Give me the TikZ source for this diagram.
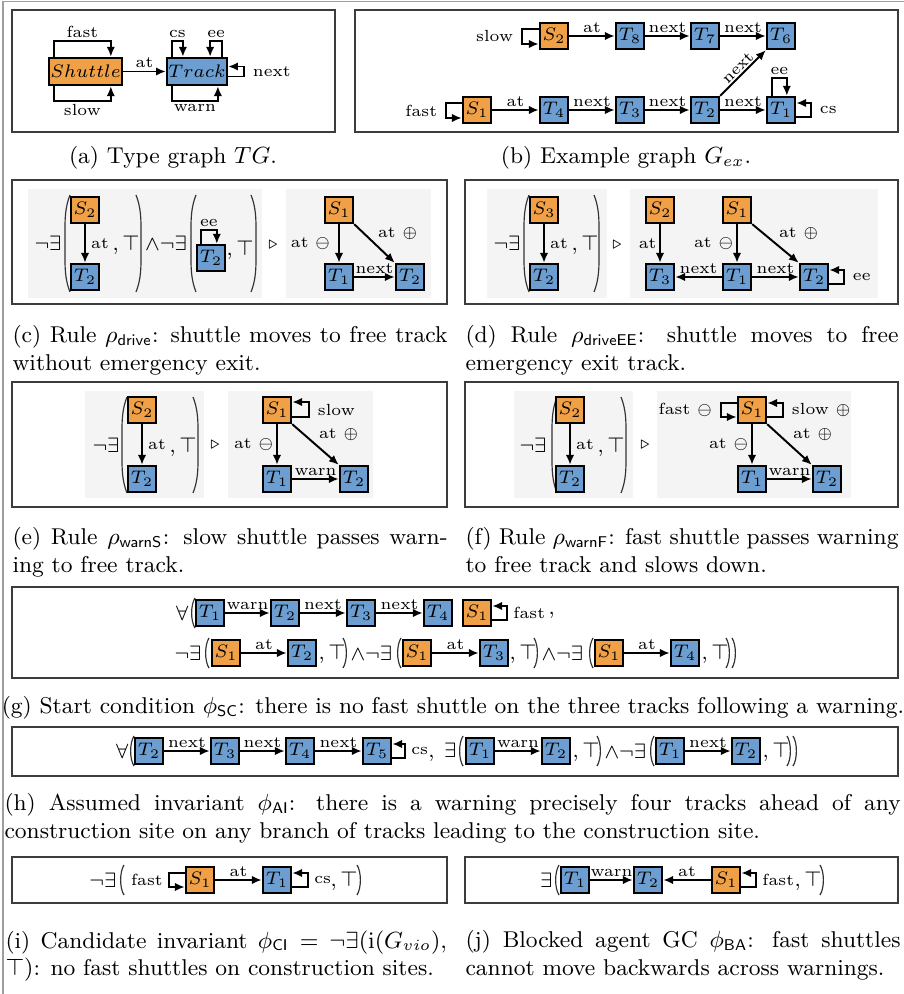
\documentclass[tikz,border=0pt]{standalone}
\usepackage{amsmath,amssymb}
\usepackage{tikz}
\usetikzlibrary{arrows.meta,calc,positioning}
\definecolor{ShuttleOrange}{RGB}{240,160,70}
\definecolor{TrackBlue}{RGB}{108,158,210}
\definecolor{PanelGray}{RGB}{244,244,244}
\definecolor{FrameGray}{RGB}{60,60,60}
% thin brackets: tall ones for the rules, short ones for the conditions
\newcommand{\parenopen}[3]{\draw[parenline] (#1+4,#2) .. controls (#1,#2+10) and (#1-1,#2+20) .. (#1-1,#2+32) -- (#1-1,#3-32) .. controls (#1-1,#3-20) and (#1,#3-10) .. (#1+4,#3);}
\newcommand{\parenclose}[3]{\draw[parenline] (#1-4,#2) .. controls (#1,#2+10) and (#1+1,#2+20) .. (#1+1,#2+32) -- (#1+1,#3-32) .. controls (#1+1,#3-20) and (#1,#3-10) .. (#1-4,#3);}
\newcommand{\smallopen}[2]{\draw[parenline] (#1+3,#2-15) .. controls (#1-1.5,#2-8) and (#1-1.5,#2+8) .. (#1+3,#2+15);}
\newcommand{\smallclose}[2]{\draw[parenline] (#1-3,#2-15) .. controls (#1+1.5,#2-8) and (#1+1.5,#2+8) .. (#1-3,#2+15);}
\tikzset{
  shuttle/.style={draw,line width=0.9pt,fill=ShuttleOrange,minimum width=10.8pt,minimum height=10pt,inner sep=0.5pt,font=\fontsize{7.5}{8}\selectfont},
  track/.style={shuttle,fill=TrackBlue},
  link/.style={-{Latex[length=3.8pt,width=3.2pt]},line width=0.75pt},
  lbl/.style={font=\fontsize{6.2}{7}\selectfont,inner sep=1pt},
  fml/.style={font=\fontsize{8.5}{10}\selectfont,inner sep=0pt},
  parenline/.style={line width=0.45pt,black!80},
  boxframe/.style={draw=FrameGray,line width=0.5pt},
  panel/.style={fill=PanelGray},
  capt/.style={font=\fontsize{8.8}{10.6}\selectfont,inner sep=0pt},
  captpar/.style={capt,anchor=north west,align=left},
}
\begin{document}
\begin{tikzpicture}[x=0.385pt,y=-0.385pt,>=Latex]
\useasboundingbox (0,0) rectangle (904,994);
% outer frame
\draw[FrameGray!50,line width=0.6pt] (3,994) -- (3,1.5) -- (904,1.5);

% (a) type graph
\draw[boxframe] (12,10) rectangle (335,132);
\node[shuttle,minimum width=26.6pt,minimum height=10.4pt] (sh) at (85.5,71.5) {$Shuttle$};
\node[track,minimum width=22.3pt,minimum height=10.4pt] (tr) at (197,71.5) {$Track$};
\draw[link] (sh) -- (tr) node[lbl,midway,above]{at};
\draw[link] ($(sh.north west)+(6,0)$) -- ++(0,-16) -- ++(57,0) node[lbl,midway,above]{fast} -- ++(0,16);
\draw[link] ($(sh.south west)+(6,0)$) -- ++(0,15) -- ++(57,0) node[lbl,midway,below]{slow} -- ++(0,-15);
\draw[link] ($(tr.north west)+(6,0)$) -- ++(0,-16) -- ++(11,0) node[lbl,midway,above]{cs} -- ++(0,16);
\draw[link] ($(tr.north east)+(-6,0)$) -- ++(0,-16) -- ++(-12,0) node[lbl,midway,above]{ee} -- ++(0,16);
\draw[link] ($(tr.east)+(0,5)$) -- ++(16,0) -- ++(0,-10) node[lbl,midway,right,xshift=2pt]{next} -- ++(-16,0);
\draw[link] ($(tr.south west)+(6,0)$) -- ++(0,15) -- ++(46,0) node[lbl,midway,below]{warn} -- ++(0,-15);
\node[capt] (capA) at (173,158) {(a) Type graph $TG$.};

% (b) example graph
\draw[boxframe] (355,10) rectangle (898,132);
\node[shuttle] (bS2) at (554,36) {$S_2$};
\node[track] (bT8) at (630,36) {$T_8$};
\node[track] (bT7) at (705,36) {$T_7$};
\node[track] (bT6) at (781,36) {$T_6$};
\node[shuttle] (bS1) at (477,110) {$S_1$};
\node[track] (bT4) at (554,110) {$T_4$};
\node[track] (bT3) at (630,110) {$T_3$};
\node[track] (bT2) at (705,110) {$T_2$};
\node[track] (bT1) at (781,110) {$T_1$};
\draw[link] (bS2) -- (bT8) node[lbl,midway,above]{at};
\draw[link] (bT8) -- (bT7) node[lbl,midway,above]{next};
\draw[link] (bT7) -- (bT6) node[lbl,midway,above]{next};
\draw[link] (bS1) -- (bT4) node[lbl,midway,above]{at};
\draw[link] (bT4) -- (bT3) node[lbl,midway,above]{next};
\draw[link] (bT3) -- (bT2) node[lbl,midway,above]{next};
\draw[link] (bT2) -- (bT1) node[lbl,midway,above]{next};
\draw[link] (bT2.north east) -- (bT6.south west) node[lbl,midway,sloped,above,inner sep=0.5pt]{next};
\draw[link] ($(bS2.west)+(0,-7)$) -- ++(-17,0) -- ++(0,15) node[lbl,midway,left,xshift=-2pt]{slow} -- ++(17,0);
\draw[link] ($(bS1.west)+(0,-7)$) -- ++(-16,0) -- ++(0,15) node[lbl,midway,left,xshift=-2pt]{fast} -- ++(16,0);
\draw[link] ($(bT1.north west)+(6,0)$) -- ++(0,-18) -- ++(15,0) node[lbl,midway,above]{ee} -- ++(0,18);
\draw[link] ($(bT1.east)+(0,7)$) -- ++(15,0) -- ++(0,-14) node[lbl,midway,right,xshift=2pt]{cs} -- ++(-15,0);
\node[capt] (capB) at (626,158) {(b) Example graph $G_{ex}$.};

% (c) rule drive
\draw[boxframe] (12,180) rectangle (447,304);
\fill[panel] (28,189) rectangle (262,298);
\fill[panel] (286,189) rectangle (431,298);
\node[fml] (cNe) at (48,243) {$\neg\exists$};
\parenopen{66}{195}{292}
\node[shuttle] (cS2) at (85,210) {$S_2$};
\node[track] (cT2) at (85,277) {$T_2$};
\draw[link] (cS2) -- (cT2) node[lbl,midway,right,xshift=1pt]{at};
\node[fml,anchor=west] (cTop) at (112,245) {$,\top$};
\parenclose{140}{195}{292}
\node[fml] (cAnd) at (166,243) {${\wedge}\neg\exists$};
\parenopen{192}{195}{292}
\node[track] (cT2e) at (211,258) {$T_2$};
\draw[link] ($(cT2e.north west)+(5,0)$) -- ++(0,-14) -- ++(16,0) node[lbl,midway,above]{ee} -- ++(0,14);
\node[fml,anchor=west] (cTop2) at (226,250) {$,\top$};
\parenclose{255}{195}{292}
\node[lbl] (cRule) at (273,245) {$\triangleright$};
\node[shuttle] (cS1) at (339,210) {$S_1$};
\node[track] (cT1) at (339,277) {$T_1$};
\node[track] (cT2r) at (410,277) {$T_2$};
\draw[link] (cS1) -- (cT1) node[lbl,midway,left,xshift=-2pt]{at $\ominus$};
\draw[link] (cS1.south east) -- (cT2r.north west) node[lbl,midway,above right]{at $\oplus$};
\draw[link] (cT1) -- (cT2r) node[lbl,midway,above]{next};
\node[captpar] (capC) at (12,325) {\makebox[167.5pt][s]{(c) Rule $\rho_{\mathsf{drive}}$: shuttle moves to free track}\\ without emergency exit.};

% (d) rule driveEE
\draw[boxframe] (465,180) rectangle (898,304);
\fill[panel] (487,189) rectangle (607,298);
\fill[panel] (630,189) rectangle (878,298);
\node[fml] (dNe) at (507,243) {$\neg\exists$};
\parenopen{525}{195}{292}
\node[shuttle] (dS3) at (544,210) {$S_3$};
\node[track] (dT2) at (544,277) {$T_2$};
\draw[link] (dS3) -- (dT2) node[lbl,midway,right,xshift=1pt]{at};
\node[fml,anchor=west] (dTop) at (571,245) {$,\top$};
\parenclose{598}{195}{292}
\node[lbl] (dRule) at (617,245) {$\triangleright$};
\node[shuttle] (dS2) at (660,210) {$S_2$};
\node[track] (dT3) at (660,277) {$T_3$};
\node[shuttle] (dS1) at (737,210) {$S_1$};
\node[track] (dT1) at (737,277) {$T_1$};
\node[track] (dT2r) at (814,277) {$T_2$};
\draw[link] (dS2) -- (dT3) node[lbl,midway,left]{at};
\draw[link] (dS1) -- (dT1) node[lbl,midway,left]{at $\ominus$};
\draw[link] (dS1.south east) -- (dT2r.north west) node[lbl,midway,above right]{at $\oplus$};
\draw[link] (dT1) -- (dT3) node[lbl,midway,above]{next};
\draw[link] (dT1) -- (dT2r) node[lbl,midway,above]{next};
\draw[link] ($(dT2r.east)+(0,7)$) -- ++(15,0) -- ++(0,-14) node[lbl,midway,right,xshift=2pt]{ee} -- ++(-15,0);
\node[captpar] (capD) at (465,325) {\makebox[166.7pt][s]{(d) Rule $\rho_{\mathsf{driveEE}}$: shuttle moves to free}\\ emergency exit track.};

% (e) rule warnS
\draw[boxframe] (12,382) rectangle (447,507);
\fill[panel] (85,391) rectangle (204,498);
\fill[panel] (228,391) rectangle (373,498);
\node[fml] (eNe) at (106,445) {$\neg\exists$};
\parenopen{123}{397}{493}
\node[shuttle] (eS2) at (142,410) {$S_2$};
\node[track] (eT2) at (142,479) {$T_2$};
\draw[link] (eS2) -- (eT2) node[lbl,midway,right,xshift=1pt]{at};
\node[fml,anchor=west] (eTop) at (169,447) {$,\top$};
\parenclose{197}{397}{493}
\node[lbl] (eRule) at (215,445) {$\triangleright$};
\node[shuttle] (eS1) at (277,410) {$S_1$};
\node[track] (eT1) at (277,479) {$T_1$};
\node[track] (eT2r) at (354,479) {$T_2$};
\draw[link] ($(eS1.east)+(0,7)$) -- ++(17,0) -- ++(0,-15) node[lbl,midway,right,xshift=2pt]{slow} -- ++(-17,0);
\draw[link] (eS1) -- (eT1) node[lbl,midway,left]{at $\ominus$};
\draw[link] (eS1.south east) -- (eT2r.north west) node[lbl,midway,above right]{at $\oplus$};
\draw[link] (eT1) -- (eT2r) node[lbl,midway,above]{warn};
\node[captpar] (capE) at (12,527) {\makebox[167.5pt][s]{(e) Rule $\rho_{\mathsf{warnS}}$: slow shuttle passes warn-}\\ ing to free track.};

% (f) rule warnF
\draw[boxframe] (465,382) rectangle (898,507);
\fill[panel] (514,391) rectangle (633,498);
\fill[panel] (657,391) rectangle (851,498);
\node[fml] (fNe) at (533,445) {$\neg\exists$};
\parenopen{553}{397}{493}
\node[shuttle] (fS2) at (570,410) {$S_2$};
\node[track] (fT2) at (570,479) {$T_2$};
\draw[link] (fS2) -- (fT2) node[lbl,midway,right,xshift=1pt]{at};
\node[fml,anchor=west] (fTop) at (597,447) {$,\top$};
\parenclose{625}{397}{493}
\node[lbl] (fRule) at (645,445) {$\triangleright$};
\node[shuttle] (fS1) at (752,410) {$S_1$};
\node[track] (fT1) at (752,479) {$T_1$};
\node[track] (fT2r) at (827,479) {$T_2$};
\draw[link] ($(fS1.west)+(0,-7)$) -- ++(-16,0) -- ++(0,14) node[lbl,midway,left,xshift=-2pt]{fast $\ominus$} -- ++(16,0);
\draw[link] ($(fS1.east)+(0,7)$) -- ++(16,0) -- ++(0,-14) node[lbl,midway,right,xshift=2pt]{slow $\oplus$} -- ++(-16,0);
\draw[link] (fS1) -- (fT1) node[lbl,midway,left]{at $\ominus$};
\draw[link] (fS1.south east) -- (fT2r.north west) node[lbl,midway,above right]{at $\oplus$};
\draw[link] (fT1) -- (fT2r) node[lbl,midway,above]{warn};
\node[captpar] (capF) at (465,527) {\makebox[166.7pt][s]{(f) Rule $\rho_{\mathsf{warnF}}$: fast shuttle passes warning}\\ to free track and slows down.};

% (g) start condition
\draw[boxframe] (12,587) rectangle (898,678);
\node[track] (gT1) at (210,613) {$T_1$};
\node[track] (gT2) at (285,613) {$T_2$};
\node[track] (gT3) at (361,613) {$T_3$};
\node[track] (gT4) at (438,613) {$T_4$};
\node[shuttle] (gS1) at (477,613) {$S_1$};
\node[fml,anchor=east] (gAll) at (189,613) {$\forall$};
\smallopen{192}{613}
\draw[link] (gT1) -- (gT2) node[lbl,midway,above]{warn};
\draw[link] (gT2) -- (gT3) node[lbl,midway,above]{next};
\draw[link] (gT3) -- (gT4) node[lbl,midway,above]{next};
\draw[link] ($(gS1.east)+(0,7)$) -- ++(15,0) -- ++(0,-14) node[lbl,midway,right,xshift=1pt]{fast} -- ++(-15,0);
\node[fml,anchor=west] (gCom) at (548,615) {$,$};
\node[shuttle] (gS1b) at (226,653) {$S_1$};
\node[track] (gT2b) at (302,653) {$T_2$};
\node[shuttle] (gS1c) at (417,653) {$S_1$};
\node[track] (gT3c) at (494,653) {$T_3$};
\node[shuttle] (gS1d) at (609,653) {$S_1$};
\node[track] (gT4d) at (685,653) {$T_4$};
\node[fml,anchor=east] (gNe1) at (202,653) {$\neg\exists$};
\smallopen{206}{653}
\node[fml,anchor=west] (gTop1) at (318,654) {$,\top$};
\smallclose{346}{653}
\node[fml,anchor=west] (gAnd1) at (350,653) {${\wedge}\neg\exists$};
\smallopen{398}{653}
\node[fml,anchor=west] (gTop2) at (509,654) {$,\top$};
\smallclose{537}{653}
\node[fml,anchor=west] (gAnd2) at (541,653) {${\wedge}\neg\exists$};
\smallopen{590}{653}
\node[fml,anchor=west] (gTop3) at (701,654) {$,\top$};
\smallclose{729}{653}
\smallclose{735}{653}
\draw[link] (gS1b) -- (gT2b) node[lbl,midway,above]{at};
\draw[link] (gS1c) -- (gT3c) node[lbl,midway,above]{at};
\draw[link] (gS1d) -- (gT4d) node[lbl,midway,above]{at};
\node[capt] (capG) at (453,708) {(g) Start condition $\phi_{\mathsf{SC}}$: there is no fast shuttle on the three tracks following a warning.};

% (h) assumed invariant
\draw[boxframe] (12,727) rectangle (898,776);
\node[track] (hT2) at (149,751) {$T_2$};
\node[track] (hT3) at (225,751) {$T_3$};
\node[track] (hT4) at (300,751) {$T_4$};
\node[track] (hT5) at (377,751) {$T_5$};
\node[track] (hT1) at (480,751) {$T_1$};
\node[track] (hT2b) at (556,751) {$T_2$};
\node[track] (hT1c) at (670,751) {$T_1$};
\node[track] (hT2c) at (746,751) {$T_2$};
\node[fml,anchor=east] (hAll) at (129,751) {$\forall$};
\smallopen{131}{751}
\draw[link] (hT2) -- (hT3) node[lbl,midway,above]{next};
\draw[link] (hT3) -- (hT4) node[lbl,midway,above]{next};
\draw[link] (hT4) -- (hT5) node[lbl,midway,above]{next};
\draw[link] ($(hT5.east)+(0,7)$) -- ++(13,0) -- ++(0,-14) node[lbl,midway,right,xshift=1pt]{cs} -- ++(-13,0);
\node[fml,anchor=east] (hEx) at (457,752) {$,\;\exists$};
\smallopen{460}{751}
\draw[link] (hT1) -- (hT2b) node[lbl,midway,above]{warn};
\node[fml,anchor=west] (hTop1) at (572,752) {$,\top$};
\smallclose{600}{751}
\node[fml,anchor=west] (hAnd) at (604,751) {${\wedge}\neg\exists$};
\smallopen{651}{751}
\draw[link] (hT1c) -- (hT2c) node[lbl,midway,above]{next};
\node[fml,anchor=west] (hTop2) at (762,752) {$,\top$};
\smallclose{790}{751}
\smallclose{796}{751}
\node[captpar] (capH) at (4,793) {\makebox[345pt][s]{(h) Assumed invariant $\phi_{\mathsf{AI}}$: there is a warning precisely four tracks ahead of any}\\ construction site on any branch of tracks leading to the construction site.};

% (i) candidate invariant
\draw[boxframe] (12,857) rectangle (447,903);
\node[shuttle] (iS1) at (200,880) {$S_1$};
\node[track] (iT1) at (277,880) {$T_1$};
\node[fml,anchor=east] (iNe) at (117,880) {$\neg\exists$};
\smallopen{121}{880}
\draw[link] ($(iS1.west)+(0,-7)$) -- ++(-16,0) -- ++(0,14) node[lbl,midway,left,xshift=-1pt]{fast} -- ++(16,0);
\draw[link] (iS1) -- (iT1) node[lbl,midway,above]{at};
\draw[link] ($(iT1.east)+(0,7)$) -- ++(16,0) -- ++(0,-14) node[lbl,midway,right,xshift=1pt]{cs} -- ++(-16,0);
\node[fml,anchor=west] (iTop) at (330,881) {$,\top$};
\smallclose{360}{880}
\node[captpar] (capI) at (5,930) {\makebox[170pt][s]{(i) Candidate invariant $\phi_{\mathsf{CI}}=\neg\exists(\mathrm{i}(G_{vio}),$}\\ $\top)$: no fast shuttles on construction sites.};

% (j) blocked agent
\draw[boxframe] (465,857) rectangle (898,903);
\node[track] (jT1) at (575,880) {$T_1$};
\node[track] (jT2) at (648,880) {$T_2$};
\node[shuttle] (jS1) at (726,880) {$S_1$};
\node[fml,anchor=east] (jEx) at (553,880) {$\exists$};
\smallopen{556}{880}
\draw[link] (jT1) -- (jT2) node[lbl,midway,above]{warn};
\draw[link] (jS1) -- (jT2) node[lbl,midway,above]{at};
\draw[link] ($(jS1.east)+(0,7)$) -- ++(15,0) -- ++(0,-14) node[lbl,midway,right,xshift=1pt]{fast} -- ++(-15,0);
\node[fml,anchor=west] (jTop) at (794,881) {$,\top$};
\smallclose{823}{880}
\node[captpar] (capJ) at (465,930) {\makebox[167.5pt][s]{(j) Blocked agent GC $\phi_{\mathsf{BA}}$: fast shuttles}\\ cannot move backwards across warnings.};
\end{tikzpicture}
\end{document}
